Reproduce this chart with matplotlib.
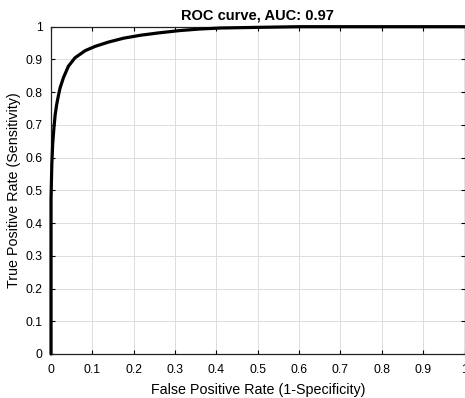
import matplotlib
matplotlib.use("Agg")
import matplotlib.pyplot as plt

plt.rcParams['font.family'] = ['Liberation Sans', 'DejaVu Sans']

# ROC points
fpr = [0, 0, 0.002, 0.004, 0.007, 0.010, 0.0137, 0.018, 0.022, 0.030, 0.042,
       0.058, 0.083, 0.107, 0.139, 0.176, 0.217, 0.26, 0.31, 0.36, 0.41,
       0.5, 0.6, 0.8, 1.0]
tpr = [0, 0.47, 0.58, 0.64, 0.69, 0.73, 0.762, 0.79, 0.813, 0.844, 0.879,
       0.905, 0.927, 0.940, 0.953, 0.965, 0.974, 0.981, 0.988, 0.993, 0.996,
       0.998, 1.0, 1.0, 1.0]
auc = 0.97
ticks = [0, 0.1, 0.2, 0.3, 0.4, 0.5, 0.6, 0.7, 0.8, 0.9, 1]
tick_labels = ['0', '0.1', '0.2', '0.3', '0.4', '0.5', '0.6', '0.7', '0.8', '0.9', '1']

fig = plt.figure(figsize=(4.65, 3.98), dpi=100)
ax = fig.add_axes([51 / 465, 1 - 354 / 398, 413.5 / 465, 327.3 / 398])

ax.plot(fpr, tpr, color='black', linewidth=2.3, clip_on=False, zorder=3,
        solid_joinstyle='round', solid_capstyle='round')

ax.set_xlim(0, 1)
ax.set_ylim(0, 1)
ax.set_xticks(ticks)
ax.set_xticklabels(tick_labels)
ax.set_yticks(ticks)
ax.set_yticklabels(tick_labels)
ax.tick_params(direction='in', length=3, width=0.8, labelsize=8.8,
               top=True, right=True)
ax.tick_params(axis='x', pad=7)
ax.tick_params(axis='y', pad=6)
ax.grid(True, color='#dddddd', linewidth=0.7)
ax.set_axisbelow(True)
for s in ax.spines.values():
    s.set_linewidth(0.9)
    s.set_color('#222222')

ax.set_xlabel('False Positive Rate (1-Specificity)', fontsize=10.3, labelpad=5)
ax.set_ylabel('True Positive Rate (Sensitivity)', fontsize=10.3, labelpad=3)
ax.set_title(f'ROC curve, AUC: {auc}', fontsize=10.5, fontweight='bold', pad=5)

fig.savefig('out.png', dpi=100)
